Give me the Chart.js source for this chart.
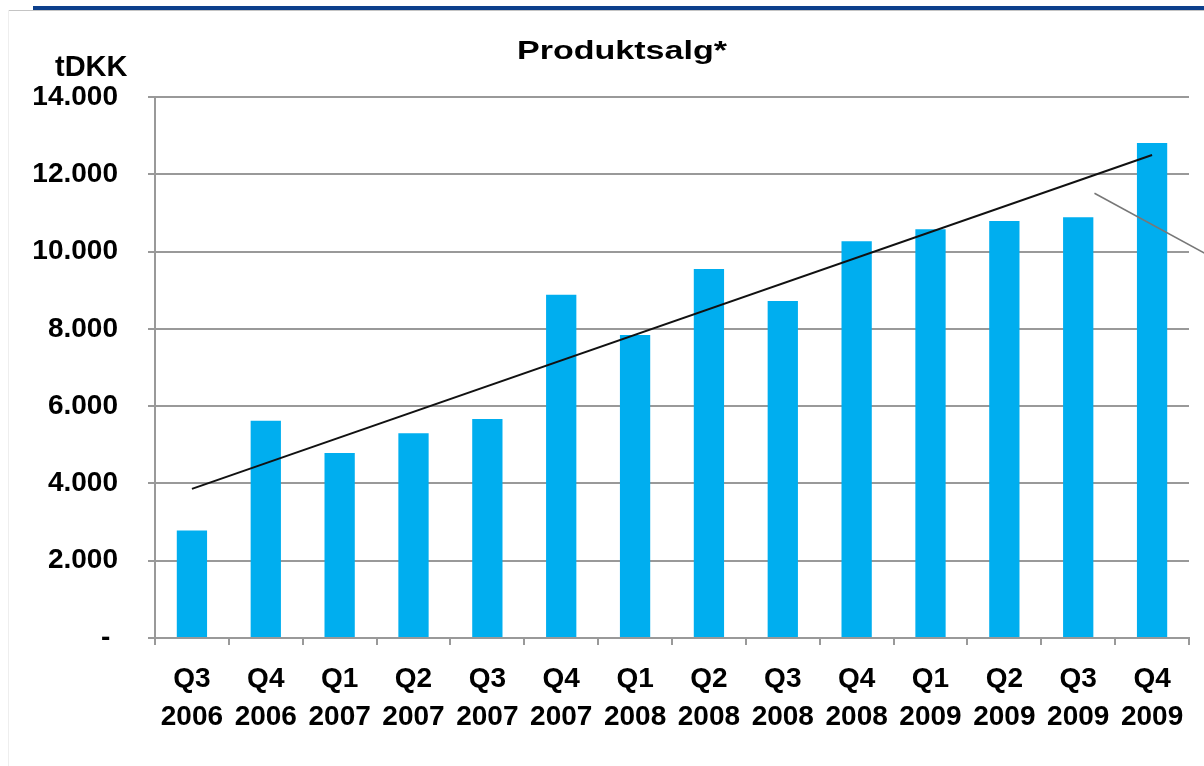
<!DOCTYPE html>
<html>
<head>
<meta charset="utf-8">
<script src="https://cdn.jsdelivr.net/npm/chart.js@4/dist/chart.umd.min.js"></script>
<style>
  html, body { margin: 0; padding: 0; background: #fff; }
  #wrap { position: relative; width: 1204px; height: 766px; overflow: hidden; }
  #blueRule { position: absolute; top: 6px; left: 33px; right: 0; height: 4px; background: #0d3f8c; }
  #greyRule { position: absolute; top: 10px; left: 8px; right: 0; height: 1px; background: #c4c4c4; }
  #leftRule { position: absolute; top: 10px; left: 8px; bottom: 0; width: 1px; background: #eeeeee; }
  canvas { position: absolute; left: 0; top: 0; }
</style>
</head>
<body>
<div id="wrap">
  <div id="blueRule"></div>
  <div id="greyRule"></div>
  <div id="leftRule"></div>
  <canvas id="chart" width="1204" height="766"></canvas>
</div>
<script>
// data
const quarters = ['Q3', 'Q4', 'Q1', 'Q2', 'Q3', 'Q4', 'Q1', 'Q2', 'Q3', 'Q4', 'Q1', 'Q2', 'Q3', 'Q4'];
const years = ['2006', '2006', '2007', '2007', '2007', '2007', '2008', '2008', '2008', '2008', '2009', '2009', '2009', '2009'];
const sales = [2780, 5620, 4790, 5300, 5670, 8880, 7840, 9550, 8720, 10270, 10580, 10790, 10890, 12810];
// trend line end points (first and last quarter)
const trend = [3860, null, null, null, null, null, null, null, null, null, null, null, null, 12500];
// grey callout line, in [category index, tDKK]
const callout = [[12.22, 11510], [13.72, 9950]];

const chartTitle = 'Produktsalg*';
const unitLabel = 'tDKK';

const labels = quarters.map((q, i) => [q, years[i]]);
const fontFamily = '"Liberation Sans", Arial, sans-serif';

function fmt(v) {
    if (v === 0) return '- ';
    return String(v).replace(/\B(?=(\d{3})+(?!\d))/g, '.');
}

const textPlugin = {
    id: 'texts',
    afterDraw(chart) {
        const ctx = chart.ctx;
        ctx.save();
        ctx.fillStyle = '#000';
        ctx.textBaseline = 'alphabetic';
        // title, stretched a bit wider like the original
        ctx.font = 'bold 26px ' + fontFamily;
        const w = ctx.measureText(chartTitle).width;
        const sx = 210 / w;
        ctx.save();
        ctx.translate(517, 59);
        ctx.scale(sx, 1);
        ctx.textAlign = 'left';
        ctx.fillText(chartTitle, 0, 0);
        ctx.restore();
        // unit
        ctx.font = 'bold 29px ' + fontFamily;
        ctx.textAlign = 'left';
        ctx.fillText(unitLabel, 55, 76);
        ctx.restore();
    },
    afterDatasetsDraw(chart) {
        const ctx = chart.ctx;
        const xs = chart.scales.x, ys = chart.scales.y;
        ctx.save();
        ctx.strokeStyle = '#777';
        ctx.lineWidth = 1.5;
        ctx.beginPath();
        ctx.moveTo(xs.getPixelForValue(callout[0][0]), ys.getPixelForValue(callout[0][1]));
        ctx.lineTo(xs.getPixelForValue(callout[1][0]), ys.getPixelForValue(callout[1][1]));
        ctx.stroke();
        ctx.restore();
    }
};

new Chart(document.getElementById('chart'), {
    data: {
        labels: labels,
        datasets: [{
            type: 'line',
            data: trend,
            spanGaps: true,
            borderColor: '#111',
            borderWidth: 2,
            pointRadius: 0,
            fill: false,
            order: 0
        }, {
            type: 'bar',
            data: sales,
            backgroundColor: '#00aeef',
            barPercentage: 0.41,
            categoryPercentage: 1,
            order: 1
        }]
    },
    options: {
        responsive: false,
        animation: false,
        devicePixelRatio: 1,
        layout: { padding: { left: 0, top: 97, right: 15, bottom: 0 } },
        plugins: {
            legend: { display: false },
            tooltip: { enabled: false }
        },
        scales: {
            x: {
                offset: true,
                grid: {
                    offset: true,
                    drawOnChartArea: false,
                    drawTicks: true,
                    tickLength: 7,
                    color: '#999',
                    lineWidth: 2
                },
                border: { color: '#999', width: 2 },
                ticks: {
                    color: '#000',
                    padding: 15,
                    maxRotation: 0,
                    autoSkip: false,
                    font: { family: fontFamily, size: 28, weight: 'bold', lineHeight: 1.36 }
                },
                afterFit(scale) { scale.height = 128; }
            },
            y: {
                min: 0,
                max: 14000,
                ticks: {
                    stepSize: 2000,
                    color: '#000',
                    padding: 30,
                    callback: fmt,
                    font: { family: fontFamily, size: 28, weight: 'bold' }
                },
                grid: {
                    color: '#999',
                    lineWidth: 2,
                    tickLength: 7
                },
                border: { color: '#999', width: 2 },
                afterFit(scale) { scale.width = 155; }
            }
        }
    },
    plugins: [textPlugin]
});
</script>
</body>
</html>
